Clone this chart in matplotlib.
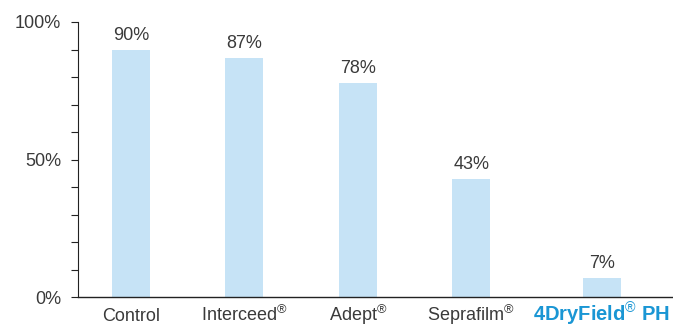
import numpy as np
import matplotlib.pyplot as plt
from matplotlib.ticker import MultipleLocator, FixedLocator

plt.rcParams['font.family'] = ['Liberation Sans', 'DejaVu Sans']
plt.rcParams['mathtext.fontset'] = 'custom'
plt.rcParams['mathtext.rm'] = 'Liberation Sans'
plt.rcParams['mathtext.bf'] = 'Liberation Sans:bold'

# data
products = ['Control', 'Interceed$^{®}$', 'Adept$^{®}$', 'Seprafilm$^{®}$', '4DryField$^{®}$ PH']
values = [90, 87, 78, 43, 7]
positions = [0, 1, 2, 3, 4.15]

bar_color = '#c6e3f6'
text_color = '#3a3a3a'
brand_color = '#1a96d4'

fig = plt.figure(figsize=(6.73, 3.27), dpi=100)
ax = fig.add_axes([78 / 673, 30 / 327, 1 - 78 / 673, 275 / 327])

ax.bar(positions, values, width=0.335, color=bar_color, zorder=2)

for xp, v in zip(positions, values):
    ax.annotate(f'{v}%', (xp, v), xytext=(0, 4), textcoords='offset points',
                ha='center', va='bottom', fontsize=13, color=text_color)

# category labels on a common baseline
for i, (xp, name) in enumerate(zip(positions, products)):
    brand = i == len(products) - 1
    ax.annotate(name, (xp, 0), xycoords=('data', 'axes fraction'),
                xytext=(0, -17.5), textcoords='offset points',
                ha='center', va='baseline',
                fontsize=14.5 if brand else 13,
                fontweight='bold' if brand else 'normal',
                color=brand_color if brand else text_color)

ax.set_xlim(-0.468, 4.78)
ax.set_ylim(0, 100)

ax.yaxis.set_major_locator(FixedLocator([0, 50, 100]))
ax.yaxis.set_minor_locator(MultipleLocator(10))
ax.set_yticklabels(['0%', '50%', '100%'])
ax.tick_params(axis='y', which='both', direction='out', length=5, width=0.8,
               color='#222222', labelsize=13, labelcolor=text_color, pad=7)
ax.set_xticks([])

for s in ['top', 'right']:
    ax.spines[s].set_visible(False)
ax.spines['left'].set_color('#222222')
ax.spines['bottom'].set_color('#222222')
ax.spines['left'].set_linewidth(0.8)
ax.spines['bottom'].set_linewidth(1.0)

fig.savefig('out.png', dpi=100)
